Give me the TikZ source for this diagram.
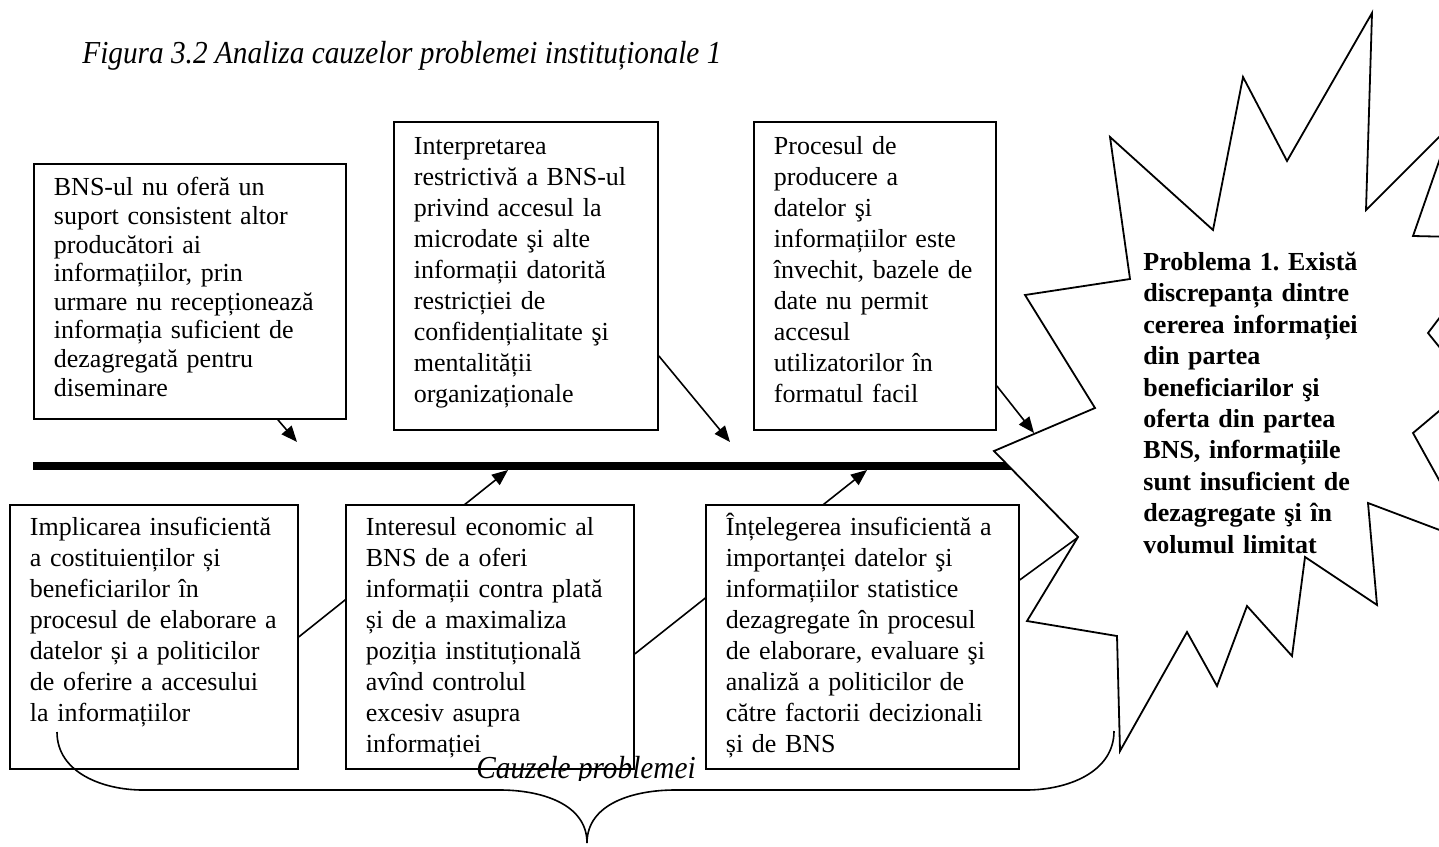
\documentclass[tikz,border=0pt]{standalone}
\usepackage{fontspec}
\setmainfont{Liberation Serif}
\newfontfamily\narrowfont[FakeStretch=0.915]{Liberation Serif}
\usetikzlibrary{arrows.meta,backgrounds}
\frenchspacing
\tikzset{
  cause/.style={draw, line width=0.9pt, fill=white, anchor=north west, align=left, inner sep=0pt, text width=#1, font=\fontsize{13}{15.5}\selectfont, execute at begin node={\leftskip=10pt\rightskip=0pt plus 1fil}},
  problem/.style={anchor=north west, align=left, inner sep=0pt, text width=150pt, font=\fontsize{13}{15.7}\selectfont\bfseries, execute at begin node={\rightskip=0pt plus 1fil}},
  caption/.style={inner sep=0pt, font=\narrowfont\itshape\fontsize{16}{19}\selectfont},
  spine/.style={line width=4pt},
  arr/.style={-{Triangle[length=8pt,width=6.5pt]}, line width=0.8pt},
  burst/.style={draw, line width=0.9pt, fill=white, line join=miter, miter limit=25},
  brace/.style={line width=0.8pt}
}
\begin{document}
\begin{tikzpicture}[x=0.5pt, y=-0.5pt]
  \useasboundingbox (0,0) rectangle (1439,846);
  \node[caption, anchor=base west] (title) at (82,63) {Figura 3.2 Analiza cauzelor problemei instituționale 1};
  \node[cause=156pt, font=\fontsize{13}{14.3}\selectfont, text height=16pt, text depth=111.5pt] (t1) at (33,163) {BNS-ul nu oferă un\\suport consistent altor\\producători ai\\informațiilor, prin\\urmare nu recepționează\\informația suficient de\\dezagregată pentru\\diseminare};
  \node[cause=132pt, text height=16.5pt, text depth=137.5pt] (t2) at (393,121) {Interpretarea\\restrictivă a BNS-ul\\privind accesul la\\microdate şi alte\\informații datorită\\restricției de\\confidențialitate şi\\mentalității\\organizaționale};
  \node[cause=121pt, text height=16.5pt, text depth=137.5pt] (t3) at (753,121) {Procesul de\\producere a\\datelor şi\\informațiilor este\\învechit, bazele de\\date nu permit\\accesul\\utilizatorilor în\\formatul facil};
  \node[cause=144pt, text height=15.5pt, text depth=116.5pt] (b1) at (9,504) {Implicarea insuficientă\\a costituienților și\\beneficiarilor în\\procesul de elaborare a\\datelor și a politicilor\\de oferire a accesului\\la informațiilor};
  \node[cause=144pt, text height=15.5pt, text depth=116.5pt] (b2) at (345,504) {Interesul economic al\\BNS de a oferi\\informații contra plată\\și de a maximaliza\\poziția instituțională\\avînd controlul\\excesiv asupra\\informației};
  \node[cause=156.5pt, text height=15.5pt, text depth=116.5pt] (b3) at (705,504) {Înțelegerea insuficientă a\\importanței datelor şi\\informațiilor statistice\\dezagregate în procesul\\de elaborare, evaluare şi\\analiză a politicilor de\\către factorii decizionali\\și de BNS};
  \coordinate (fish-l) at (33,466);
  \coordinate (fish-r) at (1100,466);
  \coordinate (h1) at (297,442);
  \coordinate (h2) at (730,442);
  \coordinate (h3) at (1034,433);
  \coordinate (h4) at (508,470);
  \coordinate (h5) at (867,470);
  \coordinate (h6) at (1170,470);
  \begin{scope}[on background layer]
    \draw[spine] (fish-l) -- (fish-r);
    \draw[arr] ([xshift=44pt]t1.south) -- (h1);
    \draw[arr] ([yshift=-40pt]t2.east) -- (h2);
    \draw[arr] (b1.east) -- (h4);
    \draw[arr] ([yshift=-8.5pt]b2.east) -- (h5);
    \draw[arr] ([yshift=28.5pt]b3.east) -- (h6);
  \end{scope}
  \draw[burst] (994,451) -- (1095,408) -- (1025,295) -- (1130,279) -- (1110,137) -- (1213,230) -- (1243,77) -- (1287,161) -- (1372,13) -- (1366,210) -- (1452,124) -- (1413,236) -- (1500,238) -- (1428,333) -- (1470,385) -- (1413,433) -- (1474,543) -- (1368,503) -- (1377,605) -- (1305,557) -- (1292,656) -- (1247,606) -- (1217,686) -- (1187,632) -- (1120,751) -- (1117,636) -- (1027,621) -- (1078,537) -- cycle;
  \draw[arr] ([yshift=-55pt]t3.east) -- (h3);
  \node[problem, text height=10pt] (prob) at (1143,250) {Problema 1. Există\\discrepanța dintre\\cererea informației\\din partea\\beneficiarilor şi\\oferta din partea\\BNS, informațiile\\sunt insuficient de\\dezagregate şi în\\volumul limitat};
  \draw[brace] (57,732) to[out=-90, in=180] (143,790) -- (500,790) to[out=0, in=90] (587,843) to[out=90, in=180] (675,790) -- (1026,790) to[out=0, in=-90] (1114,731);
  \begin{scope}
    \clip (440,740) rectangle (730,780);
    \node[caption, anchor=base] (causes) at (586,778) {Cauzele problemei};
  \end{scope}
\end{tikzpicture}
\end{document}
